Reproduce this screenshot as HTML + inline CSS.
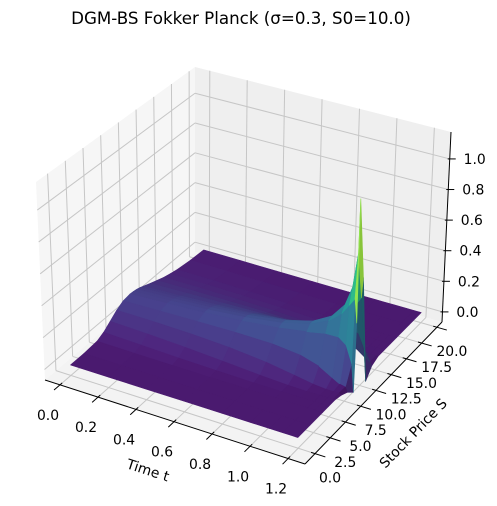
<!DOCTYPE html>
<html><head><meta charset="utf-8">
<style>
html,body{margin:0;padding:0;background:#fff;}
svg{display:block;font-family:"DejaVu Sans","Liberation Sans",sans-serif;}
</style></head>
<body>
<svg id="chart" width="497" height="506" viewBox="0 0 497 506" xmlns="http://www.w3.org/2000/svg">
<text x="241" y="24" font-size="16.7" text-anchor="middle" fill="#000">DGM-BS Fokker Planck (σ=0.3, S0=10.0)</text>
<g id="panes"></g>
<g id="grid"></g>
<g id="axes"></g>
<g id="surface"></g>
<text x="148" y="475" font-size="13.9" text-anchor="middle" transform="rotate(18 148 470)">Time t</text>
<text x="413" y="438" font-size="13.9" text-anchor="middle" transform="rotate(-46 413 433)">Stock Price S</text>
<text x="503" y="235" font-size="13.9" text-anchor="middle" transform="rotate(-90 503 230)">p(t,S)</text>
</svg>
<script>
// ---- data ----
const tValues = [0, 0.2, 0.4, 0.6, 0.8, 0.95, 1.05, 1.12, 1.16, 1.19, 1.2];
const sValues = [0, 2, 4, 5, 6, 7, 8, 9, 9.5, 10, 10.5, 11, 12, 13, 14, 15, 16, 18, 20];
const zRow0 = [0,0,.0065,.027,.061,.096,.120,.127,.125,.121,.114,.105,.086,.068,.051,.038,.027,.014,.007];
const zRow1 = [0,0,.0034,.019,.053,.094,.126,.138,.137,.132,.124,.114,.092,.070,.051,.036,.025,.011,.005];
const zRow2 = [0,0,.001,.011,.042,.089,.131,.151,.152,.147,.138,.126,.098,.071,.049,.032,.021,.008,.003];
const zRow3 = [0,0,0,.005,.027,.077,.135,.170,.174,.169,.158,.142,.105,.070,.044,.026,.015,.004,.001];
const zRow4 = [0,0,0,.001,.011,.055,.133,.197,.209,.206,.190,.166,.111,.064,.033,.016,.007,.001,0];
const zRow5 = [0,0,0,0,.002,.027,.115,.226,.255,.256,.232,.193,.108,.048,.018,.006,.002,0,0];
const zRow6 = [0,0,0,0,0,.007,.080,.250,.312,.323,.285,.218,.091,.026,.006,.001,0,0,0];
const zRow7 = [0,0,0,0,0,0,.033,.252,.382,.420,.350,.230,.055,.007,0,0,0,0,0];
const zRow8 = [0,0,0,0,0,0,.007,.216,.449,.543,.414,.212,.021,0,0,0,0,0,0];
const zRow9 = [0,0,0,0,0,0,0,.109,.50,.767,.468,.130,.001,0,0,0,0,0,0];
const zRow10 = [0,0,0,0,0,-.01,-.03,-.07,.35,1.12,.6,-.08,-.02,0,0,0,0,0,0];
const zRows = [zRow0,zRow1,zRow2,zRow3,zRow4,zRow5,zRow6,zRow7,zRow8,zRow9,zRow10];
const xTicks = [0, 0.2, 0.4, 0.6, 0.8, 1.0, 1.2];
const xTickLabels = ["0.0","0.2","0.4","0.6","0.8","1.0","1.2"];
const yTicks = [0, 2.5, 5, 7.5, 10, 12.5, 15, 17.5, 20];
const yTickLabels = ["0.0","2.5","5.0","7.5","10.0","12.5","15.0","17.5","20.0"];
const zTicks = [0, 0.2, 0.4, 0.6, 0.8, 1.0];
const zTickLabels = ["0.0","0.2","0.4","0.6","0.8","1.0"];

// ---- axes geometry ----
const XL=[-0.079,1.289], YL=[-1.64,20.83], ZL=[-0.066,1.176];
const C={p000:[45,380],p100:[305,464],p110:[442,322],p010:[195,252],p001:[36,182],p101:[299,262],p111:[451,132],p011:[195,67]};
function lerp(a,b,t){return [a[0]+(b[0]-a[0])*t,a[1]+(b[1]-a[1])*t];}
function proj(fx,fy,fz){
  const b0=lerp(lerp(C.p000,C.p100,fx),lerp(C.p010,C.p110,fx),fy);
  const b1=lerp(lerp(C.p001,C.p101,fx),lerp(C.p011,C.p111,fx),fy);
  return lerp(b0,b1,fz);
}
function fxOf(t){return (t-XL[0])/(XL[1]-XL[0]);}
function fyOf(s){return (s-YL[0])/(YL[1]-YL[0]);}
function fzOf(z){return (z-ZL[0])/(ZL[1]-ZL[0]);}
const NS="http://www.w3.org/2000/svg";
function mk(tag,attrs,parent){const e=document.createElementNS(NS,tag);for(const k in attrs)e.setAttribute(k,attrs[k]);parent.appendChild(e);return e;}
function pts(arr){return arr.map(p=>p[0].toFixed(2)+","+p[1].toFixed(2)).join(" ");}

const panes=document.getElementById('panes');
let e;
e=mk('polygon',{points:pts([C.p000,C.p100,C.p110,C.p010]),fill:'#f3f3f3'},panes);


e=mk('polygon',{points:pts([C.p000,C.p010,C.p011,C.p001]),fill:'#f6f6f6'},panes);


e=mk('polygon',{points:pts([C.p010,C.p110,C.p111,C.p011]),fill:'#efefef'},panes);



const grid=document.getElementById('grid');
function gline(a,b,name){const l=mk('line',{x1:a[0],y1:a[1],x2:b[0],y2:b[1],stroke:'#c6c6c6','stroke-width':1},grid);

}
xTicks.forEach(t=>{const f=fxOf(t);gline(proj(f,0,0),proj(f,1,0),'x-grid-line');gline(proj(f,1,0),proj(f,1,1),'x-grid-line');});
yTicks.forEach(s=>{const f=fyOf(s);gline(proj(0,f,0),proj(1,f,0),'y-grid-line');gline(proj(0,f,0),proj(0,f,1),'y-grid-line');});
zTicks.forEach(z=>{const f=fzOf(z);gline(proj(0,0,f),proj(0,1,f),'z-grid-line');gline(proj(0,1,f),proj(1,1,f),'z-grid-line');});

const axes=document.getElementById('axes');
function aline(a,b,name){const l=mk('line',{x1:a[0],y1:a[1],x2:b[0],y2:b[1],stroke:'#000','stroke-width':1},axes);

}
function label(x,y,txt,name){const t=mk('text',{x:x,y:y+5,'font-size':13.9,'text-anchor':'middle',fill:'#000'},axes);t.textContent=txt;

}
aline(C.p000,C.p100,'x-axis-line');
aline(C.p100,C.p110,'y-axis-line');
aline(C.p110,C.p111,'z-axis-line');
xTicks.forEach((t,i)=>{const f=fxOf(t);const a=proj(f,0.015,0),b=proj(f,-0.04,0);aline(a,b,'x-tick');const p=proj(f,0,0);label(p[0]-12,p[1]+30,xTickLabels[i],'x-tick-label');});
yTicks.forEach((s,i)=>{const f=fyOf(s);const a=proj(0.985,f,0),b=proj(1.04,f,0);aline(a,b,'y-tick');const p=proj(1,f,0);label(p[0]+15,p[1]+24,yTickLabels[i],'y-tick-label');});
zTicks.forEach((z,i)=>{const f=fzOf(z);const p=proj(1,1,f);aline([p[0]-2,p[1]],[p[0]+6,p[1]],'z-tick');label(p[0]+25,p[1],zTickLabels[i],'z-tick-label');});

// ---- surface ----
const VIR=['#440154','#482475','#414487','#355f8d','#2a788e','#21918c','#22a884','#44bf70','#7ad151','#bddf26','#fde725'];
function hex(h){return [parseInt(h.substr(1,2),16),parseInt(h.substr(3,2),16),parseInt(h.substr(5,2),16)];}
function viridis(v){v=Math.max(0,Math.min(1,v));const x=v*10,i=Math.min(9,Math.floor(x)),r=x-i;const a=hex(VIR[i]),b=hex(VIR[i+1]);return a.map((c,k)=>c+(b[k]-c)*r);}
let vmin=Infinity,vmax=-Infinity;
zRows.forEach(r=>r.forEach(v=>{vmin=Math.min(vmin,v);vmax=Math.max(vmax,v);}));
const L=(()=>{const v=[-0.35,-0.8,0.5];const n=Math.hypot(...v);return v.map(c=>c/n);})();
const quads=[];
for(let i=0;i<tValues.length-1;i++){
  for(let j=0;j<sValues.length-1;j++){
    const c=[[i,j],[i+1,j],[i+1,j+1],[i,j+1]].map(([a,b])=>[fxOf(tValues[a]),fyOf(sValues[b]),fzOf(zRows[a][b])]);
    const vs=[zRows[i][j],zRows[i+1][j],zRows[i+1][j+1],zRows[i][j+1]];
    const zavg=0.5*(vs.reduce((s,v)=>s+v,0)/4)+0.5*Math.max(...vs);
    const P=c.map(p=>[p[0],p[1],p[2]*0.75]);
    const d1=[P[2][0]-P[0][0],P[2][1]-P[0][1],P[2][2]-P[0][2]];
    const d2=[P[3][0]-P[1][0],P[3][1]-P[1][1],P[3][2]-P[1][2]];
    let n=[d1[1]*d2[2]-d1[2]*d2[1],d1[2]*d2[0]-d1[0]*d2[2],d1[0]*d2[1]-d1[1]*d2[0]];
    const nl=Math.hypot(...n)||1;n=n.map(v=>v/nl);if(n[2]<0)n=n.map(v=>-v);
    const dot=n[0]*L[0]+n[1]*L[1]+n[2]*L[2];
    const f=Math.max(0.7,Math.min(1.08,1.05+0.25*(dot-L[2])));
    const col=viridis((zavg-vmin)/(vmax-vmin)).map(v=>Math.min(255,Math.round(v*f)));
    const depth=P.reduce((s,p)=>s+p[0]*0.433-p[1]*0.75+p[2]*0.5,0)/4;
    quads.push({c,col,depth});
  }
}
quads.sort((a,b)=>a.depth-b.depth);
const surf=document.getElementById('surface');
quads.forEach(q=>{
  const fill='rgb('+q.col.join(',')+')';
  const poly=mk('polygon',{points:pts(q.c.map(p=>proj(p[0],p[1],p[2]))),fill:fill,stroke:fill,'stroke-width':0.6,'stroke-linejoin':'round'},surf);
  
  
});
</script>
</body></html>
